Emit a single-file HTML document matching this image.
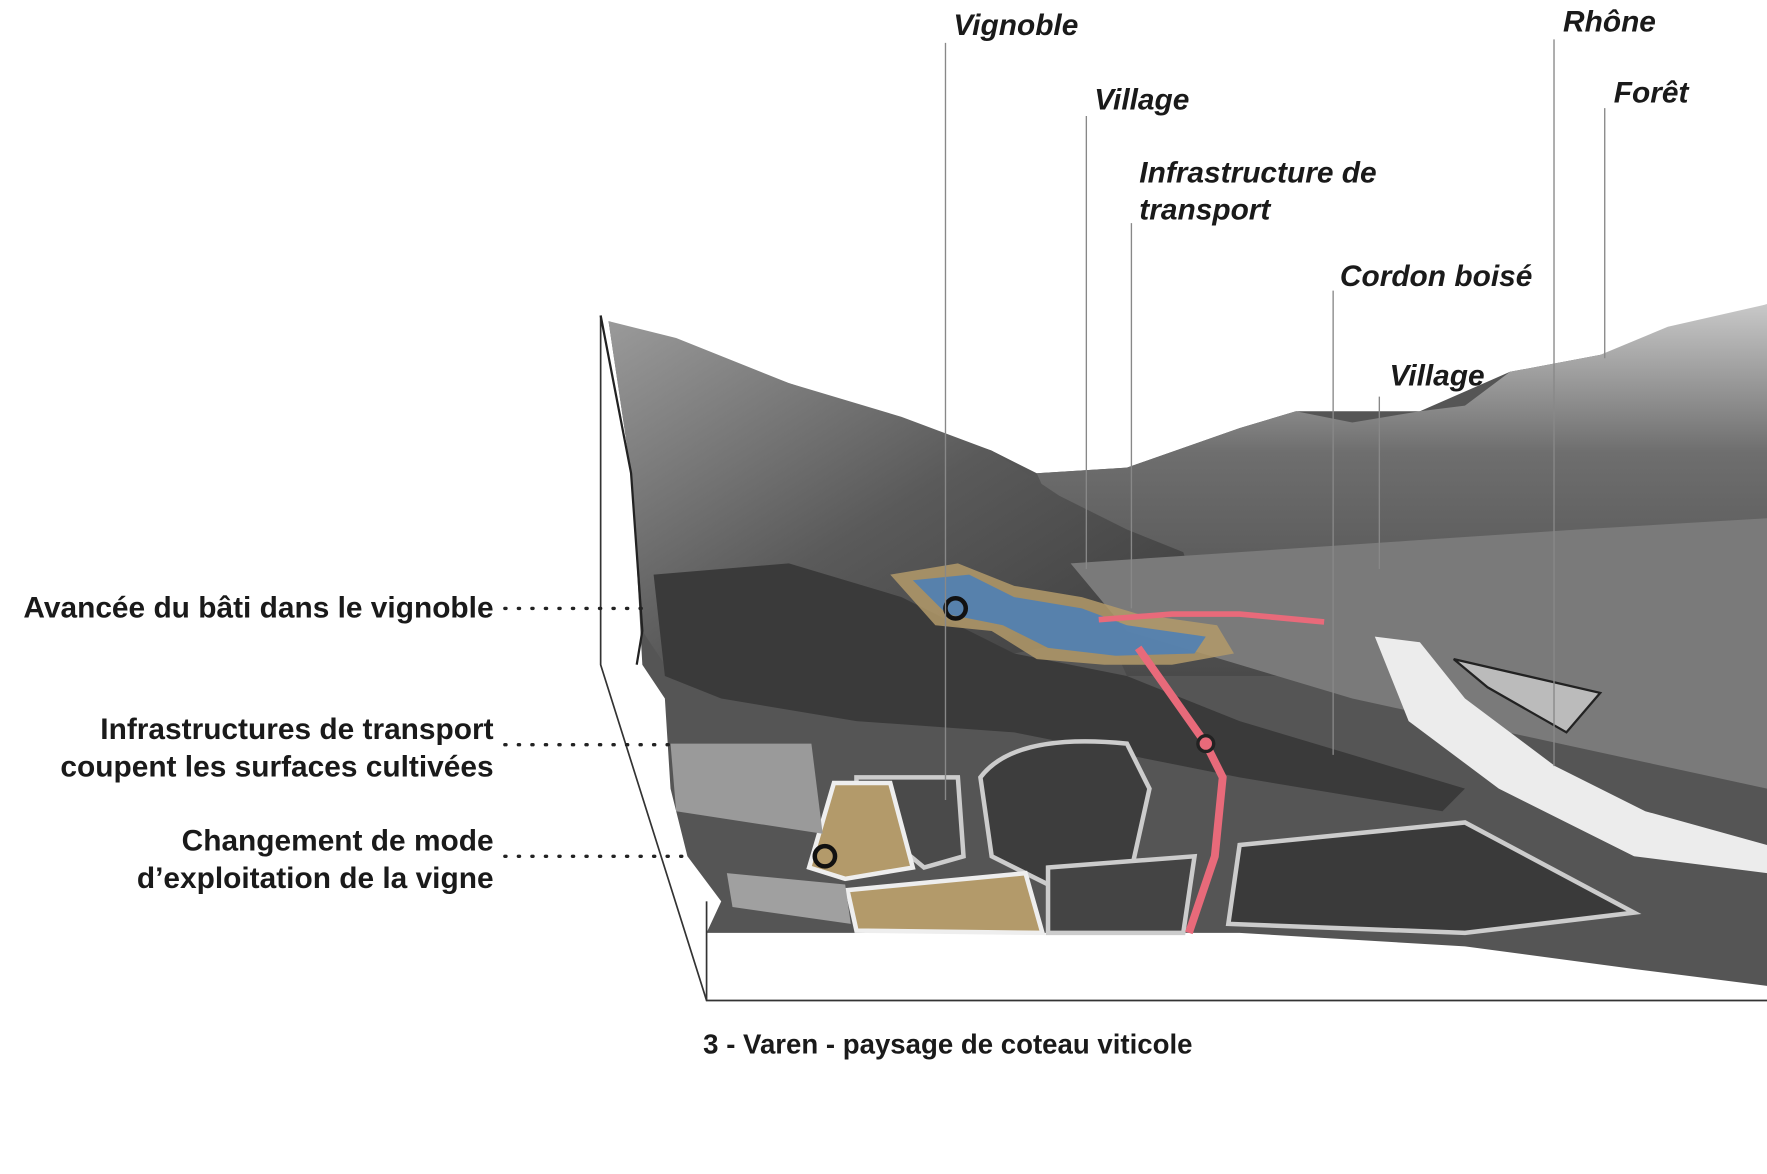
<!DOCTYPE html>
<html><head><meta charset="utf-8"><style>
html,body{margin:0;padding:0;background:#fff;width:1767px;height:1174px;overflow:hidden}
svg{display:block}
text{font-family:"Liberation Sans",sans-serif;fill:#1a1a1a}
.t{font-style:italic;font-weight:bold;font-size:26.5px}
.l{font-size:26.5px;font-weight:bold}
</style></head><body>
<svg width="1767" height="1174" viewBox="0 0 1568 1042" preserveAspectRatio="none">
<defs>
<linearGradient id="mt" x1="0" y1="0" x2="0" y2="1">
<stop offset="0" stop-color="#c8c8c8"/><stop offset="0.4" stop-color="#6e6e6e"/><stop offset="1" stop-color="#4a4a4a"/></linearGradient>
<linearGradient id="lm" x1="0" y1="0" x2="1" y2="1">
<stop offset="0" stop-color="#9a9a9a"/><stop offset="0.5" stop-color="#5a5a5a"/><stop offset="1" stop-color="#3a3a3a"/></linearGradient>
</defs>
<!-- base terrain -->
<path d="M540,285 L700,340 L880,400 L920,420 L1000,415 L1100,380 L1150,365 L1260,365 L1340,330 L1420,315 L1568,270 L1568,875 L1450,860 L1300,840 L1100,828 L627,828 L640,800 L610,760 L595,700 L590,620 L570,590 L565,500 L560,420 Z" fill="#555"/>
<path d="M920,420 L1000,415 L1100,380 L1150,365 L1200,375 L1260,365 L1300,360 L1340,330 L1420,315 L1480,290 L1568,270 L1568,600 L1000,600 Z" fill="url(#mt)"/>
<path d="M540,285 L600,300 L700,340 L800,370 L880,400 L940,440 L1000,470 L1050,490 L1060,520 L1000,560 L900,580 L800,600 L700,610 L620,600 L590,590 L570,560 L565,500 L560,420 Z" fill="url(#lm)"/>
<path d="M950,500 L1100,490 L1250,480 L1400,470 L1568,460 L1568,700 L1200,620 L1000,560 Z" fill="#7a7a7a"/>
<path d="M580,510 L700,500 L800,530 L900,580 L1000,600 L1100,640 L1200,670 L1300,700 L1280,720 L1100,690 L900,650 L760,640 L640,620 L590,600 Z" fill="#3a3a3a"/>
<path d="M870,690 Q900,650 1000,660 L1020,700 L1000,790 L940,790 L880,760 Z" fill="#3d3d3d" stroke="#ccc" stroke-width="4"/>
<path d="M930,770 L1060,760 L1050,828 L930,828 Z" fill="#444" stroke="#ccc" stroke-width="4"/>
<path d="M1100,750 L1300,730 L1450,810 L1300,828 L1090,820 Z" fill="#3a3a3a" stroke="#ccc" stroke-width="4"/>
<path d="M760,690 L850,690 L855,760 L820,770 L760,720 Z" fill="#4a4a4a" stroke="#ccc" stroke-width="4"/>
<path d="M740,695 L790,695 L810,770 L750,780 L718,770 Z" fill="#b39a6a" stroke="#eee" stroke-width="4"/>
<path d="M752,790 L910,775 L925,828 L760,826 Z" fill="#b39a6a" stroke="#eee" stroke-width="4"/>
<path d="M595,660 L720,660 L730,740 L600,720 Z" fill="#9a9a9a"/>
<path d="M645,775 L750,785 L755,820 L650,805 Z" fill="#a0a0a0"/>
<path d="M1220,565 L1260,570 L1300,620 L1380,680 L1460,720 L1568,750 L1568,775 L1450,760 L1330,700 L1250,640 Z" fill="#ececec"/>
<path d="M1290,585 L1420,615 L1390,650 L1320,610 Z" fill="#bbb" stroke="#222" stroke-width="2"/>
<path d="M790,510 L850,500 L900,520 L960,530 L1010,545 L1080,555 L1095,580 L1040,590 L980,590 L920,585 L880,560 L830,555 Z" fill="#b39a6a" opacity="0.85"/>
<path d="M810,515 L860,510 L900,530 L960,540 L1000,555 L1070,565 L1060,580 L990,582 L930,575 L890,555 L840,545 Z" fill="#4a7fb8" opacity="0.85"/>
<path d="M975,550 L1040,545 L1100,545 L1175,552" stroke="#e86a7a" stroke-width="5" fill="none"/>
<path d="M1010,575 L1070,660 L1085,690 L1078,760 L1055,828" stroke="#e86a7a" stroke-width="7" fill="none"/>
<circle cx="1070" cy="660" r="7" fill="#e86a7a" stroke="#222" stroke-width="3"/>
<circle cx="848" cy="540" r="9" fill="none" stroke="#111" stroke-width="4"/>
<circle cx="732" cy="760" r="9" fill="none" stroke="#111" stroke-width="4"/>
<path d="M533,280 L533,590 L627,888 L1568,888" stroke="#333" stroke-width="1.5" fill="none"/>
<path d="M627,800 L627,888" stroke="#333" stroke-width="1.5"/>
<path d="M533,280 L560,420 L570,560 L565,590" stroke="#222" stroke-width="2" fill="none"/>
<g stroke="#888" stroke-width="1.2">
<line x1="839" y1="38" x2="839" y2="710"/>
<line x1="964" y1="103" x2="964" y2="505"/>
<line x1="1004" y1="198" x2="1004" y2="540"/>
<line x1="1183" y1="258" x2="1183" y2="670"/>
<line x1="1224" y1="352" x2="1224" y2="505"/>
<line x1="1379" y1="35" x2="1379" y2="680"/>
<line x1="1424" y1="96" x2="1424" y2="318"/>
</g>
<g stroke="#222" stroke-width="3" stroke-dasharray="1,11" stroke-linecap="round">
<line x1="448" y1="540" x2="580" y2="540"/>
<line x1="448" y1="661" x2="600" y2="661"/>
<line x1="448" y1="760" x2="615" y2="760"/>
</g>
<text class="t" x="846" y="31">Vignoble</text>
<text class="t" x="971" y="97">Village</text>
<text class="t" x="1011" y="162">Infrastructure de</text>
<text class="t" x="1011" y="195">transport</text>
<text class="t" x="1189" y="254">Cordon boisé</text>
<text class="t" x="1233" y="342">Village</text>
<text class="t" x="1387" y="28">Rhône</text>
<text class="t" x="1432" y="91">Forêt</text>
<text class="l" x="438" y="548" text-anchor="end">Avancée du bâti dans le vignoble</text>
<text class="l" x="438" y="656" text-anchor="end">Infrastructures de transport</text>
<text class="l" x="438" y="689" text-anchor="end">coupent les surfaces cultivées</text>
<text class="l" x="438" y="755" text-anchor="end">Changement de mode</text>
<text class="l" x="438" y="788" text-anchor="end">d’exploitation de la  vigne</text>
<text x="624" y="935" style="font-size:24.5px;font-weight:bold">3 - Varen - paysage de coteau viticole</text>
</svg>
</body></html>
